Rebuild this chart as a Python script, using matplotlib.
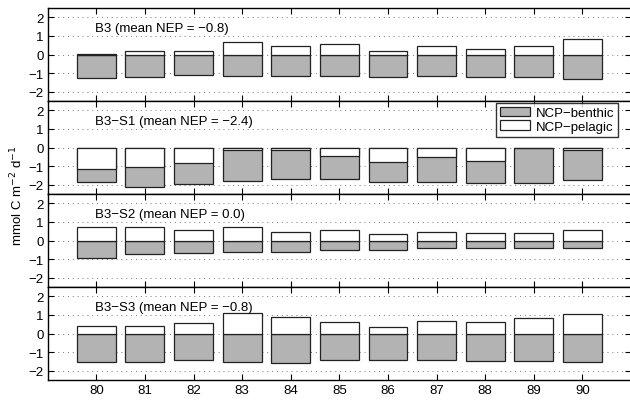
import matplotlib
matplotlib.use('Agg')
import matplotlib.pyplot as plt
import numpy as np

plt.rcParams['font.family'] = ['Liberation Sans', 'DejaVu Sans']

years = np.arange(80, 91)

titles = ['B3 (mean NEP = \u22120.8)',
          'B3\u2212S1 (mean NEP = \u22122.4)',
          'B3\u2212S2 (mean NEP = 0.0)',
          'B3\u2212S3 (mean NEP = \u22120.8)']

benthic_b3 = [-1.26, -1.23, -1.10, -1.15, -1.15, -1.15, -1.20, -1.17, -1.20, -1.20, -1.31]
pelagic_b3 = [0.03, 0.20, 0.20, 0.67, 0.47, 0.56, 0.20, 0.47, 0.32, 0.47, 0.86]

benthic_s1 = [-1.84, -2.11, -1.96, -1.80, -1.71, -1.71, -1.84, -1.84, -1.93, -1.93, -1.75]
pelagic_s1 = [-1.13, -1.03, -0.86, -0.16, -0.11, -0.47, -0.77, -0.50, -0.70, -0.02, -0.16]

benthic_s2 = [-0.92, -0.72, -0.65, -0.60, -0.60, -0.49, -0.49, -0.41, -0.40, -0.41, -0.43]
pelagic_s2 = [0.70, 0.72, 0.54, 0.74, 0.47, 0.58, 0.34, 0.47, 0.40, 0.43, 0.56]

benthic_s3 = [-1.53, -1.53, -1.41, -1.53, -1.57, -1.44, -1.44, -1.41, -1.48, -1.50, -1.55]
pelagic_s3 = [0.41, 0.41, 0.58, 1.08, 0.90, 0.63, 0.36, 0.67, 0.63, 0.81, 1.06]

benthic = [benthic_b3, benthic_s1, benthic_s2, benthic_s3]
pelagic = [pelagic_b3, pelagic_s1, pelagic_s2, pelagic_s3]

fs = 9.5

fig = plt.figure(figsize=(6.3, 4.02), dpi=100)

left, width = 0.0757, 0.926
h = 93 / 402
bottom0 = 1 - 381 / 402

axes = []
for i in range(4):
    ax = fig.add_axes([left, bottom0 + (3 - i) * h, width, h])
    axes.append(ax)
    # benthic first, pelagic drawn over it
    hb = ax.bar(years, benthic[i], width=0.8, color='#b3b3b3',
                edgecolor='#222222', linewidth=0.9, zorder=2)
    hp = ax.bar(years, pelagic[i], width=0.8, color='white',
                edgecolor='#222222', linewidth=0.9, zorder=3)
    ax.set_xlim(79, 91)
    ax.set_ylim(-2.5, 2.5)
    ax.set_yticks([-2, -1, 0, 1, 2])
    ax.set_yticklabels(['\u22122', '\u22121', '0', '1', '2'])
    ax.set_xticks(years)
    ax.yaxis.grid(True, color='#777777', linestyle=(0, (1, 4)), linewidth=0.7, zorder=0)
    ax.set_axisbelow(True)
    ax.tick_params(direction='in', length=4, width=0.8, top=True, right=True,
                   labelsize=fs, pad=3)
    if i < 3:
        ax.tick_params(labelbottom=False)
    for s in ax.spines.values():
        s.set_linewidth(1.0)
    ax.text(79.98, 1.45, titles[i], fontsize=fs, ha='left', va='center')

    if i == 1:
        leg = ax.legend([hb, hp], ['NCP\u2212benthic', 'NCP\u2212pelagic'],
                        loc='upper right', bbox_to_anchor=(0.9777, 0.98),
                        fontsize=fs, frameon=True, fancybox=False,
                        borderpad=0.3, labelspacing=0.1, handlelength=2.3,
                        handletextpad=0.4, borderaxespad=0.0)
        leg.get_frame().set_edgecolor('black')
        leg.get_frame().set_linewidth(1.0)
        leg.set_zorder(5)

fig.text(0.027, 0.512, 'mmol C m$^{-2}$ d$^{-1}$', rotation=90,
         ha='center', va='center', fontsize=fs)

plt.savefig('out.png', dpi=100)
plt.close()
